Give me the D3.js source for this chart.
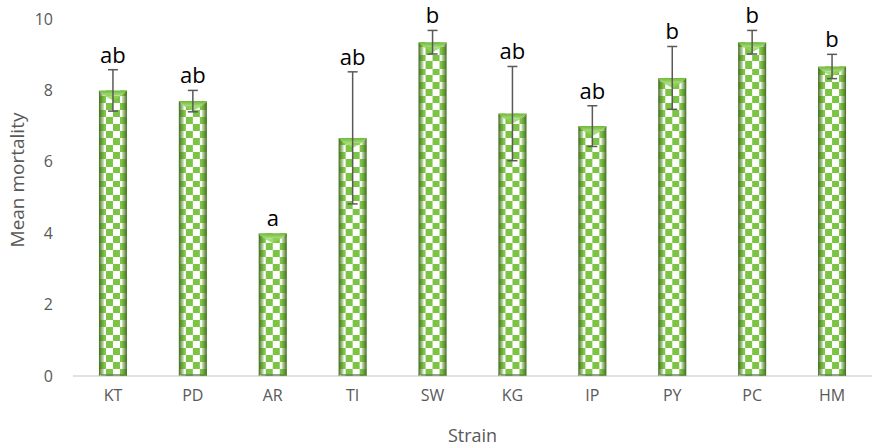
<!DOCTYPE html>
<html>
<head>
<meta charset="utf-8">
<script src="https://cdn.jsdelivr.net/npm/d3@7/dist/d3.min.js"></script>
<style>
  body { margin: 0; background: #fff; }
  svg { display: block; }
  text { font-family: "Open Sans", "Liberation Sans", sans-serif; }
</style>
</head>
<body>
<svg id="chart" width="885" height="448"></svg>
<script>
const categories = ["KT", "PD", "AR", "TI", "SW", "KG", "IP", "PY", "PC", "HM"];
const meanValues = [8.0, 7.7, 4.0, 6.67, 9.35, 7.35, 7.0, 8.35, 9.35, 8.67];
const errorValues = [0.58, 0.3, 0, 1.85, 0.33, 1.32, 0.57, 0.88, 0.33, 0.34];
const groupLetters = ["ab", "ab", "a", "ab", "b", "ab", "ab", "b", "b", "b"];
const yTicks = [0, 2, 4, 6, 8, 10];

const svg = d3.select("#chart");
const margin = { left: 73, right: 13, top: 19, bottom: 72 };
const W = 885, H = 448;

const x = d3.scaleBand().domain(categories).range([margin.left, W - margin.right]).paddingInner(0.65).paddingOuter(0.325);
const y = d3.scaleLinear().domain([0, 10]).range([H - margin.bottom, margin.top]);

const data = categories.map((c, i) => ({ c, v: meanValues[i], e: errorValues[i], l: groupLetters[i], i }));

const defs = svg.append("defs");
const cell = 7;
data.forEach(d => {
  const p = defs.append("pattern")
    .attr("id", "chk" + d.i)
    .attr("patternUnits", "userSpaceOnUse")
    .attr("x", x(d.c)).attr("y", y(0))
    .attr("width", cell * 2).attr("height", cell * 2);
  p.append("rect").attr("width", cell * 2).attr("height", cell * 2).attr("fill", "#ffffff");
  p.append("rect").attr("x", 0).attr("y", 0).attr("width", cell).attr("height", cell).attr("fill", "#7cc444");
  p.append("rect").attr("x", cell).attr("y", cell).attr("width", cell).attr("height", cell).attr("fill", "#7cc444");
});
const gl = defs.append("linearGradient").attr("id", "sideL").attr("x1", 0).attr("x2", 1).attr("y1", 0).attr("y2", 0);
gl.append("stop").attr("offset", 0).attr("stop-color", "#3f6a1f").attr("stop-opacity", 1);
gl.append("stop").attr("offset", 1).attr("stop-color", "#6a9e3a").attr("stop-opacity", 0.3);
const gr = defs.append("linearGradient").attr("id", "sideR").attr("x1", 1).attr("x2", 0).attr("y1", 0).attr("y2", 0);
gr.append("stop").attr("offset", 0).attr("stop-color", "#3f6a1f").attr("stop-opacity", 1);
gr.append("stop").attr("offset", 1).attr("stop-color", "#6a9e3a").attr("stop-opacity", 0.3);
const gt = defs.append("linearGradient").attr("id", "topG").attr("x1", 0).attr("x2", 0).attr("y1", 0).attr("y2", 1);
gt.append("stop").attr("offset", 0).attr("stop-color", "#6fb83a");
gt.append("stop").attr("offset", 1).attr("stop-color", "#a8dc78");

svg.append("line")
  .attr("x1", margin.left).attr("x2", W - margin.right)
  .attr("y1", y(0)).attr("y2", y(0))
  .attr("stroke", "#d9d9d9").attr("stroke-width", 1.3);

const bw = x.bandwidth();
const b = 5;
const bars = svg.append("g").selectAll("g").data(data).join("g");
bars.append("rect")
  .attr("x", d => x(d.c)).attr("y", d => y(d.v))
  .attr("width", bw).attr("height", d => y(0) - y(d.v))
  .attr("fill", d => `url(#chk${d.i})`);
bars.append("path").attr("fill", "url(#sideL)")
  .attr("d", d => {
    const x0 = x(d.c), y0 = y(d.v), y1 = y(0);
    return `M${x0},${y0}L${x0 + b},${y0 + b}L${x0 + b},${y1 - 2}L${x0},${y1}Z`;
  });
bars.append("path").attr("fill", "url(#sideR)")
  .attr("d", d => {
    const x1 = x(d.c) + bw, y0 = y(d.v), y1 = y(0);
    return `M${x1},${y0}L${x1 - b},${y0 + b}L${x1 - b},${y1 - 2}L${x1},${y1}Z`;
  });
bars.append("path").attr("fill", "url(#topG)")
  .attr("d", d => {
    const x0 = x(d.c), x1 = x0 + bw, y0 = y(d.v);
    return `M${x0},${y0}L${x1},${y0}L${x1 - b},${y0 + b}L${x0 + b},${y0 + b}Z`;
  });
bars.append("path").attr("fill", "#8fd45a").attr("opacity", 0.8)
  .attr("d", d => {
    const x0 = x(d.c), x1 = x0 + bw, y0 = y(d.v), xm = x0 + bw / 2;
    return `M${x0 + b},${y0 + b}L${x1 - b},${y0 + b}L${xm},${y0 + 2 * b}Z`;
  });
bars.append("rect").attr("fill", "#5f7f4a").attr("opacity", 0.7)
  .attr("x", d => x(d.c) + 2).attr("y", y(0) - 2).attr("width", bw - 4).attr("height", 2);

const eg = svg.append("g").attr("stroke", "#595959").attr("stroke-width", 1.5);
const ed = data.filter(d => d.e > 0);
const cx = d => x(d.c) + bw / 2;
eg.selectAll(".v").data(ed).join("line")
  .attr("x1", cx).attr("x2", cx)
  .attr("y1", d => y(d.v + d.e)).attr("y2", d => y(d.v - d.e));
eg.selectAll(".t").data(ed).join("line")
  .attr("x1", d => cx(d) - 5).attr("x2", d => cx(d) + 5)
  .attr("y1", d => y(d.v + d.e)).attr("y2", d => y(d.v + d.e));
eg.selectAll(".b").data(ed).join("line")
  .attr("x1", d => cx(d) - 5).attr("x2", d => cx(d) + 5)
  .attr("y1", d => y(d.v - d.e)).attr("y2", d => y(d.v - d.e));

svg.append("g").selectAll("text").data(data).join("text")
  .attr("x", cx).attr("y", d => y(d.v + d.e) - 7)
  .attr("text-anchor", "middle")
  .attr("font-size", 22).attr("fill", "#000")
  .text(d => d.l);

const yAxis = d3.axisLeft(y).tickValues(yTicks).tickSize(0).tickPadding(0);
const yg = svg.append("g").attr("transform", `translate(53,0)`).call(yAxis);
yg.select(".domain").remove();
yg.selectAll("text").attr("font-size", 16).attr("fill", "#595959").attr("font-family", "Open Sans, sans-serif");

const xAxis = d3.axisBottom(x).tickSize(0).tickPadding(0);
const xg = svg.append("g").attr("transform", `translate(0,${y(0) + 14})`).call(xAxis);
xg.select(".domain").remove();
xg.selectAll("text").attr("font-size", 16).attr("fill", "#595959").attr("font-family", "Open Sans, sans-serif");

svg.append("text").attr("x", (margin.left + W - margin.right) / 2).attr("y", 442)
  .attr("text-anchor", "middle").attr("font-size", 18).attr("fill", "#595959").text("Strain");
svg.append("text").attr("transform", "translate(24,180) rotate(-90)")
  .attr("text-anchor", "middle").attr("font-size", 19).attr("fill", "#595959").text("Mean mortality");
</script>
</body>
</html>
